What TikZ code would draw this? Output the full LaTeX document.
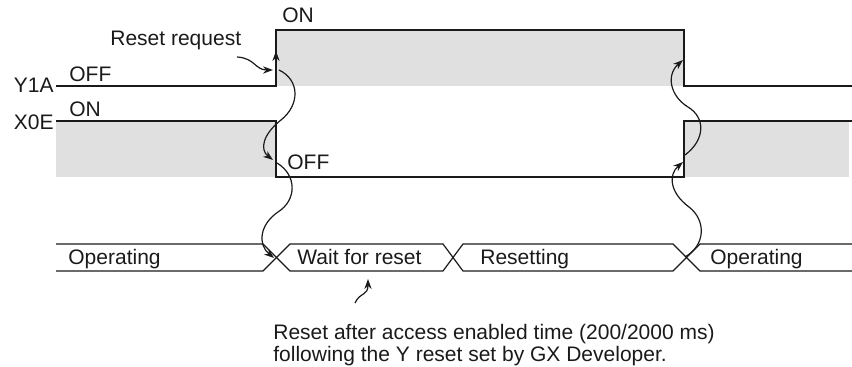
\documentclass[tikz,border=0pt]{standalone}
\usepackage{fontspec}
\setmainfont{Liberation Sans}
\usetikzlibrary{arrows.meta}
\definecolor{Shade}{HTML}{E0E0E0}
\definecolor{Ink}{HTML}{1A1A1A}

\begin{document}
\begin{tikzpicture}[x=0.5pt,y=-0.5pt,
  txt/.style={font=\fontsize{10.5}{11}\selectfont,inner sep=0pt,text=Ink},
  signal/.style={draw=Ink,line width=0.75pt},
  bus/.style={draw=Ink,line width=0.6pt},
  link/.style={draw=Ink,line width=0.6pt,-{Stealth[length=5pt,width=3.6pt]}}
]
\useasboundingbox (0,0) rectangle (852,367);
% shaded levels
\fill[Shade] (276,30) rectangle (684,86);
\fill[Shade] (56,121) rectangle (276,177);
\fill[Shade] (684,121) rectangle (849,177);
% Y1A and X0E
\draw[signal] (56,86) -- (276,86) -- (276,30) -- (684,30) -- (684,86) -- (852,86);
\draw[signal] (56,121) -- (276,121) -- (276,177) -- (684,177) -- (684,121) -- (852,121);
\node[txt,anchor=base east] (y1a) at (54,93) {Y1A};
\node[txt,anchor=base east] (x0e) at (54,130) {X0E};
\node[txt,anchor=base west] (yoff) at (69,82) {OFF};
\node[txt,anchor=base west] (xon) at (69,117) {ON};
\node[txt,anchor=base west] (yon) at (282,23) {ON};
\node[txt,anchor=base west] (xoff) at (287,170) {OFF};
\node[txt,anchor=base west] (request) at (110,46) {Reset request};
% status bus
\draw[bus] (56,244) -- (263,244) -- (290,271) -- (443,271) -- (463,244) -- (673,244) -- (700,271) -- (852,271);
\draw[bus] (56,271) -- (263,271) -- (290,244) -- (443,244) -- (463,271) -- (673,271) -- (700,244) -- (852,244);
\node[txt,anchor=base west] (op1) at (68,265) {Operating};
\node[txt,anchor=base west] (wait) at (297,265) {Wait for reset};
\node[txt,anchor=base west] (resetting) at (480,265) {Resetting};
\node[txt,anchor=base west] (op2) at (710,265) {Operating};
\node[txt,anchor=base west,align=left] (note) at (273,362) {Reset after access enabled time (200/2000 ms)\\following the Y reset set by GX Developer.};
% arrows
\coordinate (rq) at (237,57);
\coordinate (yedge) at (273,70);
\coordinate (upfrom) at (276,66);
\coordinate (upto) at (276,51);
\coordinate (ya) at (279,70);
\coordinate (xa) at (273,160);
\coordinate (xb) at (277,163);
\coordinate (cross1) at (274,258);
\coordinate (cross3) at (685,257);
\coordinate (xc) at (683,162);
\coordinate (xd) at (685,155);
\coordinate (yc) at (683,60);
\coordinate (nt) at (355,303);
\coordinate (wt) at (368,279);
\draw[link] (rq) .. controls (255,58) and (255,70) .. (yedge);
\draw[link] (upfrom) -- (upto);
\draw[link] (ya) .. controls (300,80) and (300,105) .. (281,120) .. controls (262,135) and (260,150) .. (xa);
\draw[link] (xb) .. controls (297,175) and (297,200) .. (278,212) .. controls (259,225) and (258,245) .. (cross1);
\draw[link] (cross3) .. controls (706,245) and (706,220) .. (689,207) .. controls (670,193) and (668,175) .. (xc);
\draw[link] (xd) .. controls (705,140) and (706,118) .. (688,107) .. controls (670,96) and (666,75) .. (yc);
\draw[link] (nt) .. controls (360,292) and (368,296) .. (wt);
\end{tikzpicture}
\end{document}
